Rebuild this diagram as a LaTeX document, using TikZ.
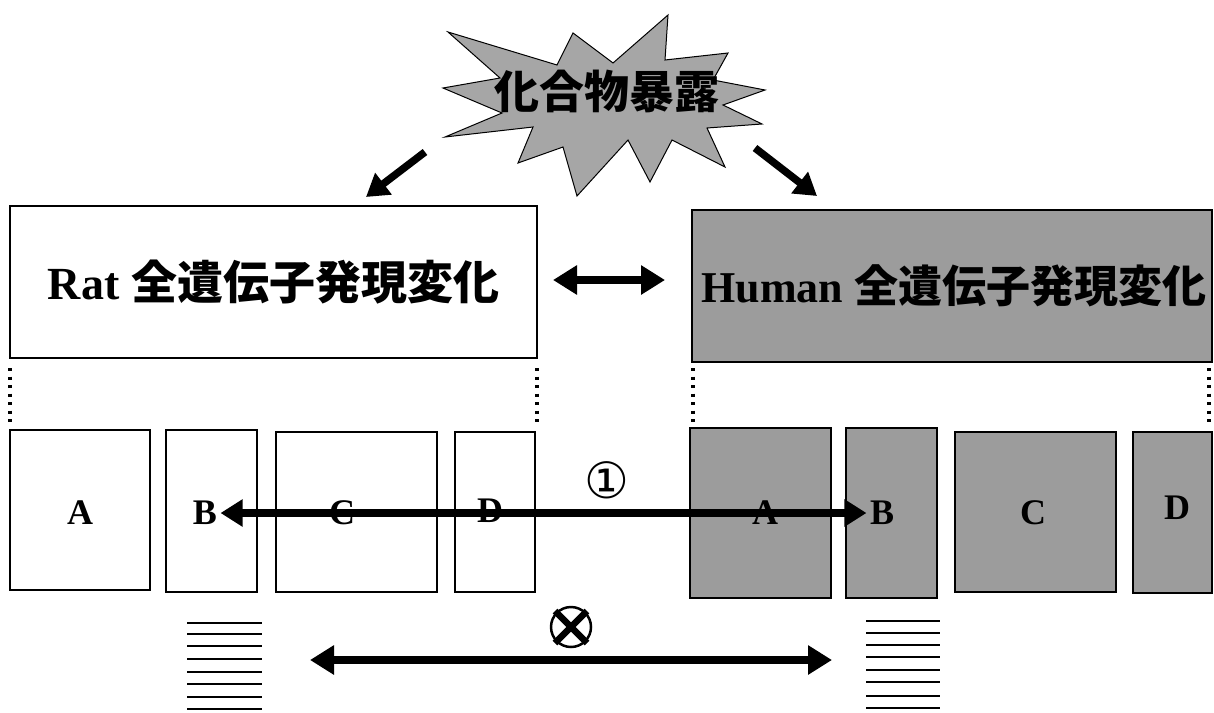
\documentclass[tikz,border=0pt]{standalone}
\usepackage{fontspec}
\setmainfont{Liberation Serif}
\newfontfamily\cjk{Noto Sans CJK JP}
\newfontfamily\sym{DejaVu Sans}
\usetikzlibrary{arrows.meta,calc}
\definecolor{boxgray}{HTML}{9C9C9C}
\definecolor{stargray}{HTML}{A6A6A6}
\tikzset{
  bigbox/.style={draw=black, line width=1.3pt},
  smallbox/.style={draw=black, line width=1.1pt},
  grayfill/.style={fill=boxgray},
  boxlabel/.style={font=\fontsize{36}{36}\selectfont\bfseries},
  bigtext/.style={font=\fontsize{46}{46}\selectfont\bfseries},
  dots/.style={line width=3.2pt, dash pattern=on 3.2pt off 5.3pt},
  fatarrow/.style={line width=7.5pt, {Triangle[length=24pt,width=28pt]}-{Triangle[length=24pt,width=28pt]}},
  fatone/.style={line width=7.5pt, -{Triangle[length=22pt,width=26pt]}},
  hatch/.style={line width=2pt},
}
\begin{document}
\begin{tikzpicture}[x=1pt,y=-1pt]
\useasboundingbox (0,0) rectangle (1214,712);
% starburst
\draw[fill=stargray, line width=1pt] (448,32) -- (557,65) -- (573,33) -- (613,63) -- (668,15) -- (665,60) -- (728,53) -- (713,80) -- (765,90) -- (723,105) -- (762,124) -- (707,128) -- (725,167) -- (672,140) -- (650,182) -- (628,140) -- (577,196) -- (563,147) -- (518,163) -- (533,127) -- (445,137) -- (502,113) -- (443,88) -- (500,78) -- cycle;
\node[font=\fontsize{45}{45}\selectfont\bfseries\cjk] (star) at (607,91) {化合物暴露};
% big boxes
\node[bigbox, minimum width=527pt, minimum height=152pt, inner sep=0pt] (rat) at (273.5,282) {};
\node[bigtext] at (rat.center) {Rat \cjk 全遺伝子発現変化};
\node[bigbox, grayfill, minimum width=520pt, minimum height=152pt, inner sep=0pt] (human) at (952,286) {};
\node[bigtext, font=\fontsize{44}{44}\selectfont\bfseries] at ($(human.center)+(2,0)$) {Human \cjk 全遺伝子発現変化};
% diagonal arrows
\coordinate (s1) at (425,152);
\coordinate (e1) at (366,197);
\coordinate (s2) at (755,148);
\coordinate (e2) at (817,196);
\draw[fatone] (s1) -- (e1);
\draw[fatone] (s2) -- (e2);
% middle double arrow
\coordinate (m1) at (553,280);
\coordinate (m2) at (665,280);
\draw[fatarrow] (m1) -- (m2);
% dotted lines
\draw[dots] (10,368) -- (10,424);
\draw[dots] (537,368) -- (537,424);
\draw[dots] (693,368) -- (693,422);
\draw[dots] (1209,368) -- (1209,422);
% small boxes left
\draw[smallbox] (10,430) rectangle (150,590);
\draw[smallbox] (166,430) rectangle (257,592);
\draw[smallbox] (276,432) rectangle (437,592);
\draw[smallbox] (455,432) rectangle (535,592);
% small boxes right
\draw[smallbox, grayfill] (690,428) rectangle (831,598);
\draw[smallbox, grayfill] (846,428) rectangle (937,598);
\draw[smallbox, grayfill] (955,432) rectangle (1116,592);
\draw[smallbox, grayfill] (1133,432) rectangle (1212,593);
% labels
\node[boxlabel] (lA) at (80,513) {A};
\node[boxlabel] (lB) at (205,513) {B};
\node[boxlabel] (lC) at (342,513) {C};
\node[boxlabel] (lD) at (490,511) {D};
\node[boxlabel] (rA) at (765,513) {A};
\node[boxlabel] (rB) at (882,513) {B};
\node[boxlabel] (rC) at (1033,513) {C};
\node[boxlabel] (rD) at (1177,508) {D};
% arrow 1
\draw[line width=7.5pt, {Triangle[length=22pt,width=26pt]}-{Triangle[length=22pt,width=26pt]}] (lB.east) -- (rB.west);
\node[font=\fontsize{50}{50}\selectfont\sym] (one) at (607,480) {①};
% lower arrow
\coordinate (b1) at (310,660);
\coordinate (b2) at (832,660);
\draw[fatarrow] (b1) -- (b2);
% crossed circle
\node[draw, circle, line width=2.5pt, minimum size=40pt, inner sep=0pt] (cx) at (571,627) {};
\draw[line width=6.5pt] ($(cx.center)+(-16,-16)$) -- ($(cx.center)+(16,16)$);
\draw[line width=6.5pt] ($(cx.center)+(-16,16)$) -- ($(cx.center)+(16,-16)$);
% hatch stacks
\foreach \y in {623,634,646,659,672,684,697,709} \draw[hatch] (187,\y) -- (262,\y);
\foreach \y in {621,633,645,657,670,682,696,708} \draw[hatch] (866,\y) -- (940,\y);
\end{tikzpicture}
\end{document}
